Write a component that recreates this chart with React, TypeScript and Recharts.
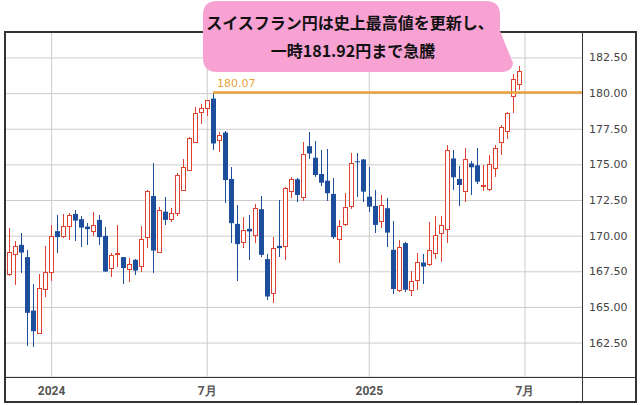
import { ComposedChart, Bar, XAxis, YAxis, CartesianGrid, ReferenceLine } from "recharts"

// weekly CHF/JPY candles, late 2023 -> mid 2025
const open = [
  167.34, 168.74, 169.39, 168.53, 164.78, 163.22, 166.36, 167.52, 170.35, 170.04,
  170.74, 171.56, 171.19, 170.67, 170.35, 171.14, 170.02, 167.76, 168.72, 168.53,
  167.69, 168.34, 167.87, 169.97, 172.82, 168.88, 171.72, 171.19, 171.61, 173.24,
  174.69, 176.66, 178.71, 178.95, 179.65, 176.73, 177.27, 174.01, 170.86, 169.58,
  170.51, 170.09, 171.89, 168.39, 166.01, 169.32, 169.27, 173.17, 173.99, 172.77,
  176.31, 175.5, 174.36, 173.89, 172.96, 169.79, 170.86, 172.07, 175.25, 175.38,
  172.77, 172.12, 171.02, 171.96, 169.04, 166.2, 169.51, 166.2, 166.99, 168.15,
  168.04, 168.81, 170.21, 170.49, 175.45, 174.01, 173.17, 175.1, 174.97, 173.55,
  173.29, 174.76, 176.62, 177.38, 179.83, 180.65,
]
const high = [
  170.56, 169.67, 170.21, 169.0, 166.64, 167.36, 169.32, 170.79, 171.49, 171.56,
  171.61, 171.84, 171.44, 170.91, 171.68, 171.47, 170.67, 168.81, 170.79, 168.57,
  168.46, 168.39, 170.72, 173.24, 175.15, 172.03, 172.73, 171.96, 174.45, 175.38,
  176.97, 179.06, 179.25, 179.58, 180.07, 177.31, 177.36, 174.83, 172.19, 171.33,
  171.49, 172.24, 172.82, 168.76, 169.97, 172.54, 173.47, 174.17, 174.06, 176.57,
  177.31, 176.66, 176.04, 176.08, 174.06, 171.14, 173.01, 175.8, 175.8, 175.38,
  174.87, 173.24, 172.89, 172.66, 171.07, 169.74, 169.56, 167.59, 168.85, 168.76,
  171.02, 171.42, 171.42, 176.38, 176.03, 174.92, 176.15, 175.3, 176.15, 174.99,
  175.69, 176.38, 177.78, 178.71, 181.4, 181.92,
]
const low = [
  167.2, 166.55, 167.41, 162.28, 162.24, 163.2, 165.73, 166.83, 168.85, 169.9,
  169.74, 169.67, 169.27, 169.39, 170.04, 169.39, 167.5, 167.11, 167.87, 166.64,
  166.78, 167.25, 167.5, 169.15, 167.41, 168.85, 170.79, 171.02, 171.42, 173.2,
  174.66, 176.5, 177.9, 178.41, 176.04, 175.92, 172.31, 169.51, 166.83, 169.16,
  168.34, 169.51, 168.57, 165.55, 165.31, 168.57, 168.34, 172.66, 172.42, 172.49,
  175.41, 174.17, 173.5, 172.49, 169.79, 168.11, 170.7, 171.9, 172.77, 172.42,
  171.72, 170.25, 170.56, 169.23, 165.94, 166.1, 166.06, 165.78, 166.24, 166.66,
  167.9, 168.39, 168.22, 169.51, 173.24, 172.12, 172.42, 172.89, 173.66, 173.19,
  173.2, 174.17, 175.69, 176.78, 178.64, 180.23,
]
const close = [
  168.88, 169.32, 168.85, 164.62, 163.33, 166.36, 167.52, 170.04, 169.93, 170.72,
  171.49, 171.09, 170.6, 170.49, 170.79, 169.93, 167.52, 168.69, 168.8, 167.76,
  168.06, 167.59, 169.79, 173.17, 168.99, 171.84, 171.14, 171.61, 174.29, 174.83,
  176.9, 178.67, 179.02, 179.53, 176.5, 177.08, 173.94, 170.91, 169.44, 170.44,
  170.33, 171.96, 168.69, 165.77, 169.16, 169.16, 173.36, 173.99, 172.89, 175.76,
  175.8, 174.29, 173.75, 173.01, 169.93, 170.72, 172.03, 175.1, 175.2, 173.12,
  172.07, 170.79, 172.17, 170.25, 166.29, 169.23, 166.24, 166.83, 168.22, 167.87,
  169.04, 170.09, 170.79, 176.03, 174.13, 173.59, 175.38, 174.83, 173.82, 173.62,
  175.06, 176.15, 177.66, 178.64, 181.05, 181.58,
]

const yTicks = [162.5, 165, 167.5, 170, 172.5, 175, 177.5, 180, 182.5]
const xTickPos = [7.1, 33.05, 60.05, 86]
const xTickLabels = ["2024", "7月", "2025", "7月"]

const UP = "#e0402f"
const DOWN = "#1d4e9c"

const data = open.map((o, i) => ({
  i,
  range: [low[i], high[i]],
  open: o,
  close: close[i],
  high: high[i],
  low: low[i],
}))

const peakIdx = high.indexOf(Math.max(...high.slice(0, 80)))
const peak = high[peakIdx]

function Candle(props: any) {
  const { x, y, width, height, payload } = props
  if (!payload) return null
  const top = Math.min(y, y + height)
  const h = Math.abs(height)
  const k = h / (payload.high - payload.low || 1)
  const py = (v: number) => top + (payload.high - v) * k
  const cx = Math.round(x + width / 2) + 0.5
  const up = payload.close >= payload.open
  const color = up ? UP : DOWN
  const bt = py(Math.max(payload.open, payload.close))
  const bb = py(Math.min(payload.open, payload.close))
  const bh = Math.max(bb - bt, 1)
  return (
    <g>
      <line x1={cx} x2={cx} y1={Math.round(top)} y2={Math.round(top + h)} stroke={color} strokeWidth={1} />
      {up ? (
        <rect x={cx - 2} y={Math.round(bt) + 0.5} width={4} height={Math.max(Math.round(bh), 1)} fill="#fff" stroke={color} strokeWidth={1} />
      ) : (
        <rect x={cx - 2.5} y={bt} width={5} height={bh} fill={color} />
      )}
    </g>
  )
}

function YTick(props: any) {
  const { y, payload } = props
  return (
    <text x={589} y={y} dominantBaseline="central" fontSize={11} fill="#444" fontFamily="DejaVu Sans">
      {Number(payload.value).toFixed(2)}
    </text>
  )
}

function XTick(props: any) {
  const { x, payload } = props
  const idx = xTickPos.indexOf(payload.value)
  return (
    <text x={x} y={391} textAnchor="middle" dominantBaseline="central" fontSize={12} fontWeight="bold" fill="#555" fontFamily="Roboto">
      {xTickLabels[idx]}
    </text>
  )
}

function PeakLabel(props: any) {
  const vb = props.viewBox || {}
  return (
    <text x={(vb.x ?? 0) + 4} y={(vb.y ?? 0) - 6} fontSize={11} fill="#e9a23b" fontFamily="DejaVu Sans">
      {peak.toFixed(2)}
    </text>
  )
}

export default function App() {
  return (
    <div style={{ position: "absolute", left: 0, top: 0, width: 640, height: 405, background: "#fff" }}>
      <ComposedChart width={640} height={405} data={data} margin={{ top: 32, right: 0, bottom: 0, left: 4 }}>
        <CartesianGrid stroke="#cccccc" verticalValues={xTickPos} />
        <XAxis
          dataKey="i"
          type="number"
          domain={[-0.83, 95.5]}
          ticks={xTickPos}
          axisLine={false}
          tickLine={false}
          tick={<XTick />}
          height={28}
          allowDataOverflow
        />
        <YAxis
          orientation="right"
          type="number"
          domain={[160.12, 184.32]}
          ticks={yTicks}
          axisLine={false}
          tickLine={false}
          tick={<YTick />}
          width={58}
          allowDataOverflow
        />
        <ReferenceLine
          segment={[{ x: peakIdx, y: peak }, { x: 95.5, y: peak }]}
          stroke="#e9a23b"
          strokeWidth={2.5}
          label={<PeakLabel />}
        />
        <Bar dataKey="range" barSize={5} shape={<Candle />} isAnimationActive={false} />
      </ComposedChart>

      <div style={{ position: "absolute", left: 4, top: 31, width: 633, height: 372, border: "2px solid #333", boxSizing: "border-box" }} />
      <div style={{ position: "absolute", left: 582, top: 31, width: 1, height: 372, background: "#333" }} />
      <div style={{ position: "absolute", left: 4, top: 377, width: 633, height: 1, background: "#333" }} />

      <svg width={640} height={80} style={{ position: "absolute", left: 0, top: 0, pointerEvents: "none" }}>
        <path
          d="M 217 1 H 486 Q 500 1 500 15 V 31 L 513 63 Q 512 72 502 72 H 217 Q 203 72 203 58 V 15 Q 203 1 217 1 Z"
          fill="#f8a2d4"
        />
        <text x={350} y={22} textAnchor="middle" dominantBaseline="central" fontSize={16} fontWeight="bold" fill="#111" fontFamily="Noto Sans CJK JP">
          スイスフラン円は史上最高値を更新し、
        </text>
        <text x={353} y={50} textAnchor="middle" dominantBaseline="central" fontSize={16} fontWeight="bold" fill="#111" fontFamily="Noto Sans CJK JP">
          一時181.92円まで急騰
        </text>
      </svg>
    </div>
  )
}
